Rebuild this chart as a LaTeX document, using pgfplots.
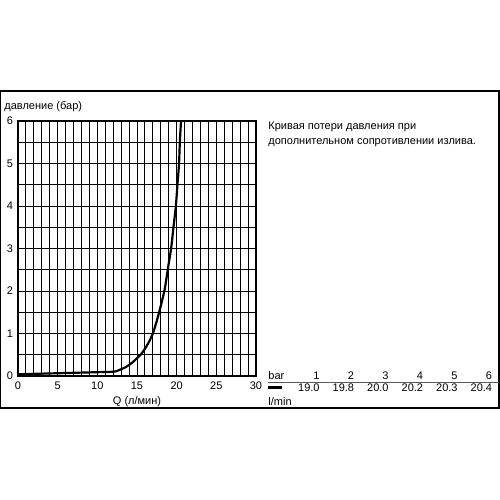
\documentclass[border=0pt]{standalone}
\usepackage{pgfplots}
\pgfplotsset{compat=1.18}
\usepackage{fontspec}
\setmainfont{Liberation Sans}
\newcommand{\fs}{\fontsize{5.5}{6.6}\selectfont}
\begin{document}
\fs
% 1 px of the reference = 0.5pt; y is measured from the bottom
\begin{tikzpicture}[x=0.5pt,y=0.5pt]
\useasboundingbox (0,0) rectangle (500,500);
\draw[line width=0.8pt] (0.5,92) rectangle (499,409);

\begin{axis}[
    at={(9pt,62pt)}, anchor=origin,
    scale only axis,
    width=119pt, height=127.5pt,
    xmin=0, xmax=30, ymin=0, ymax=6,
    xtick={0,5,...,30}, ytick={0,1,...,6},
    minor x tick num=4, minor y tick num=1,
    grid=both,
    major grid style={black, line width=0.45pt},
    minor grid style={black, line width=0.45pt},
    axis line style={black, line width=0.6pt},
    tick style={draw=none},
    /pgf/number format/assume math mode=true,
    ticklabel style={font=\fs},
    xticklabel style={yshift=-1pt},
    yticklabel style={xshift=-0.5pt},
    xlabel={Q (л/мин)},
    xlabel style={font=\fs, yshift=0.6pt},
]
\addplot[black, line width=1.1pt, smooth, tension=0.4] coordinates {
    (0,0.04)(2,0.05)(4,0.06)(6,0.07)(8,0.08)(10,0.09)(12,0.1)
    (12.5,0.12)(13,0.16)(13.5,0.2)(14,0.26)(14.5,0.33)(15,0.42)
    (15.5,0.51)(16,0.64)(16.5,0.8)(17,1.0)(17.5,1.3)(18,1.65)
    (18.5,2.05)(19,2.65)(19.3,3.0)(19.6,3.5)(19.9,4.0)(20.1,4.5)
    (20.3,5.0)(20.4,5.5)(20.55,6.0)
};
\end{axis}

\node[anchor=west, inner sep=0pt] at (4,393) {давление (бар)};

\node[anchor=west, inner sep=0pt] at (268,373) {Кривая потери давления при};
\node[anchor=west, inner sep=0pt] at (268,357) {дополнительном сопротивлении излива.};

\node[anchor=west, inner sep=0pt] at (268,124) {bar};
\draw[gray!70!black, line width=0.5pt] (268,118) -- (499,118);
\draw[black, line width=1.5pt] (268,113) -- (282,113);
\node[anchor=west, inner sep=0pt] at (268,98) {l/min};
\foreach \x/\b/\q in {320/1/19.0, 354.5/2/19.8, 389/3/20.0, 423.5/4/20.2, 458/5/20.3, 492.5/6/20.4} {
    \node[anchor=east, inner sep=0pt] at (\x,124) {\b};
    \node[anchor=east, inner sep=0pt] at (\x,112) {\q};
}
\end{tikzpicture}
\end{document}
